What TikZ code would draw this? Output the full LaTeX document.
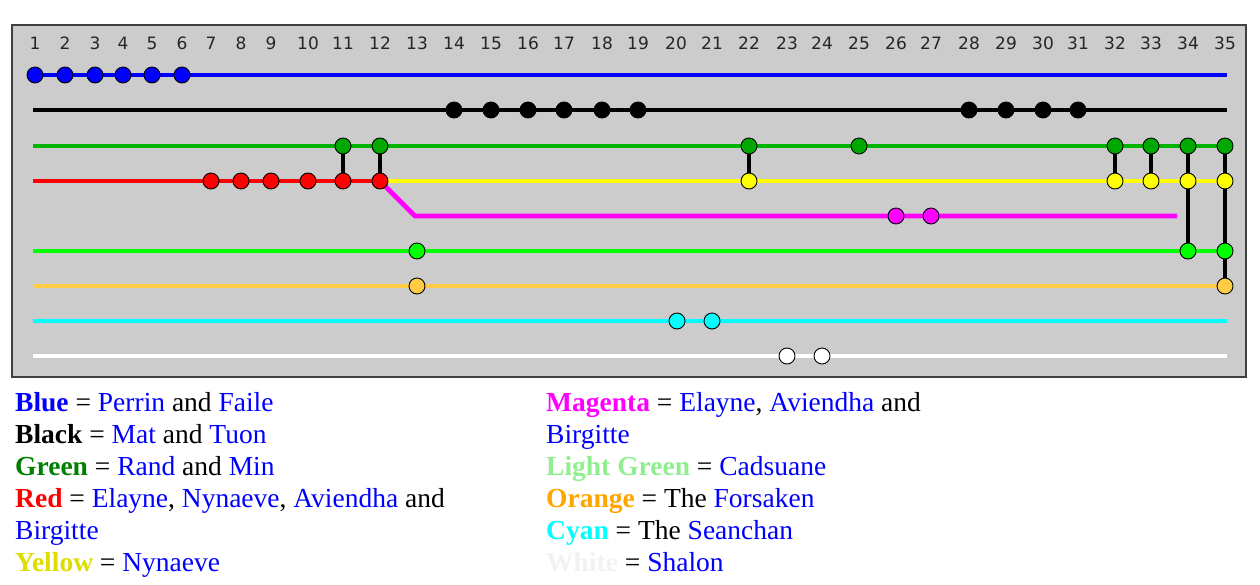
\documentclass[tikz,border=0pt]{standalone}
\usepackage{fontspec}
\setmainfont{Liberation Serif}
\newfontfamily\numfont{DejaVu Sans}
\pgfdeclarelayer{panel}
\pgfdeclarelayer{tracks}
\pgfsetlayers{panel,tracks,main}
\definecolor{panelgray}{HTML}{CCCCCC}
\definecolor{panelrim}{HTML}{404040}
\definecolor{pblue}{HTML}{0000FF}
\definecolor{pgreenline}{HTML}{00B400}
\definecolor{pgreendot}{HTML}{00A800}
\definecolor{pred}{HTML}{FF0000}
\definecolor{pyellow}{HTML}{FFFF00}
\definecolor{pmagenta}{HTML}{FF00FF}
\definecolor{plgreen}{HTML}{00FF00}
\definecolor{porange}{HTML}{FFCC44}
\definecolor{pcyan}{HTML}{00FFFF}
\definecolor{lgdark}{HTML}{008000}
\definecolor{lgyellow}{HTML}{DDDD00}
\definecolor{lglight}{HTML}{90EE90}
\definecolor{lgorange}{HTML}{FFA500}
\definecolor{lgwhite}{HTML}{F2F2F2}
\newcommand{\nm}[1]{\textcolor{pblue}{#1}}
\begin{document}
\begin{tikzpicture}[x=1pt,y=-1pt,
  dot/.style={circle,draw=black,line width=0.9pt,minimum size=16pt,inner sep=0pt},
  track/.style={line width=4.8pt},
  link/.style={line width=3.5pt,black},
  collabel/.style={font=\numfont\fontsize{17}{17}\selectfont,text=black!85,inner sep=0pt},
  legend/.style={anchor=base west,inner sep=0pt,font=\fontsize{27.5}{32}\selectfont}]
\useasboundingbox (0,0) rectangle (1260,584);

\begin{pgfonlayer}{panel}
\node[draw=panelrim,fill=panelgray,line width=2pt,minimum width=1234pt,minimum height=352pt,inner sep=0pt] (panel) at (629,201) {};
\end{pgfonlayer}

% column labels
\foreach \x [count=\i] in {35,65,95,123,152,182,211,241,271,308,343,380,417,454,491,528,564,602,638,676,712,749,787,822,859,896,931,969,1006,1043,1078,1115,1151,1188,1225}
  \node[collabel] (L\i) at (\x,43) {\i};

% track end points
\coordinate (blE) at (1227,75);
\coordinate (bkS) at (33,110);  \coordinate (bkE) at (1227,110);
\coordinate (grS) at (33,146);  \coordinate (grE) at (1227,146);
\coordinate (rdS) at (33,181);  \coordinate (ylE) at (1227,181);
\coordinate (mgK) at (415,216); \coordinate (mgE) at (1177,216);
\coordinate (lgS) at (33,251);  \coordinate (lgE) at (1227,251);
\coordinate (orS) at (33,286);  \coordinate (orE) at (1227,286);
\coordinate (cyS) at (33,321);  \coordinate (cyE) at (1227,321);
\coordinate (whS) at (33,356);  \coordinate (whE) at (1227,356);

% dots
\foreach \x/\n in {35/1,65/2,95/3,123/4,152/5,182/6}
  \node[dot,fill=pblue] (b\n) at (\x,75) {};
\foreach \x/\n in {454/14,491/15,528/16,564/17,602/18,638/19,969/28,1006/29,1043/30,1078/31}
  \node[dot,fill=black] (k\n) at (\x,110) {};
\foreach \x/\n in {343/11,380/12,749/22,859/25,1115/32,1151/33,1188/34,1225/35}
  \node[dot,fill=pgreendot] (g\n) at (\x,146) {};
\foreach \x/\n in {211/7,241/8,271/9,308/10,343/11,380/12}
  \node[dot,fill=pred] (r\n) at (\x,181) {};
\foreach \x/\n in {749/22,1115/32,1151/33,1188/34,1225/35}
  \node[dot,fill=pyellow] (y\n) at (\x,181) {};
\foreach \x/\n in {896/26,931/27}
  \node[dot,fill=pmagenta] (m\n) at (\x,216) {};
\foreach \x/\n in {417/13,1188/34,1225/35}
  \node[dot,fill=plgreen] (lg\n) at (\x,251) {};
\foreach \x/\n in {417/13,1225/35}
  \node[dot,fill=porange] (o\n) at (\x,286) {};
\foreach \x/\n in {677/20,712/21}
  \node[dot,fill=pcyan] (c\n) at (\x,321) {};
\foreach \x/\n in {787/23,822/24}
  \node[dot,fill=white] (w\n) at (\x,356) {};

% tracks
\begin{pgfonlayer}{tracks}
\draw[track,pblue] (b1.center) -- (blE);
\draw[track,black] (bkS) -- (bkE);
\draw[track,pgreenline] (grS) -- (grE);
\draw[track,pred] (rdS) -- (r12.center);
\draw[track,pyellow] (r12.center) -- (ylE);
\draw[track,pmagenta,line join=miter] (r12.center) -- (mgK) -- (mgE);
\draw[track,plgreen] (lgS) -- (lgE);
\draw[track,porange] (orS) -- (orE);
\draw[track,pcyan] (cyS) -- (cyE);
\draw[track,white] (whS) -- (whE);
\draw[link] (y34.center) -- (lg34.center);
\draw[link] (y35.center) -- (lg35.center);
\draw[link] (lg35.center) -- (o35.center);
\end{pgfonlayer}

% links
\draw[link] (g11) -- (r11);
\draw[link] (g12) -- (r12);
\draw[link] (g22) -- (y22);
\draw[link] (g32) -- (y32);
\draw[link] (g33) -- (y33);
\draw[link] (g34) -- (y34);
\draw[link] (g35) -- (y35);

% legend
\node[legend] (t1) at (15,411) {\textcolor{pblue}{\textbf{Blue}} = \nm{Perrin} and \nm{Faile}};
\node[legend] (t2) at (15,443) {\textbf{Black} = \nm{Mat} and \nm{Tuon}};
\node[legend] (t3) at (15,475) {\textcolor{lgdark}{\textbf{Green}} = \nm{Rand} and \nm{Min}};
\node[legend] (t4) at (15,507) {\textcolor{pred}{\textbf{Red}} = \nm{Elayne}, \nm{Nynaeve}, \nm{Aviendha} and};
\node[legend] (t5) at (15,539) {\nm{Birgitte}};
\node[legend] (t6) at (15,571) {\textcolor{lgyellow}{\textbf{Yellow}} = \nm{Nynaeve}};
\node[legend] (u1) at (546,411) {\textcolor{pmagenta}{\textbf{Magenta}} = \nm{Elayne}, \nm{Aviendha} and};
\node[legend] (u2) at (546,443) {\nm{Birgitte}};
\node[legend] (u3) at (546,475) {\textcolor{lglight}{\textbf{Light Green}} = \nm{Cadsuane}};
\node[legend] (u4) at (546,507) {\textcolor{lgorange}{\textbf{Orange}} = The \nm{Forsaken}};
\node[legend] (u5) at (546,539) {\textcolor{pcyan}{\textbf{Cyan}} = The \nm{Seanchan}};
\node[legend] (u6) at (546,571) {\textcolor{lgwhite}{\textbf{White}} = \nm{Shalon}};
\end{tikzpicture}
\end{document}
